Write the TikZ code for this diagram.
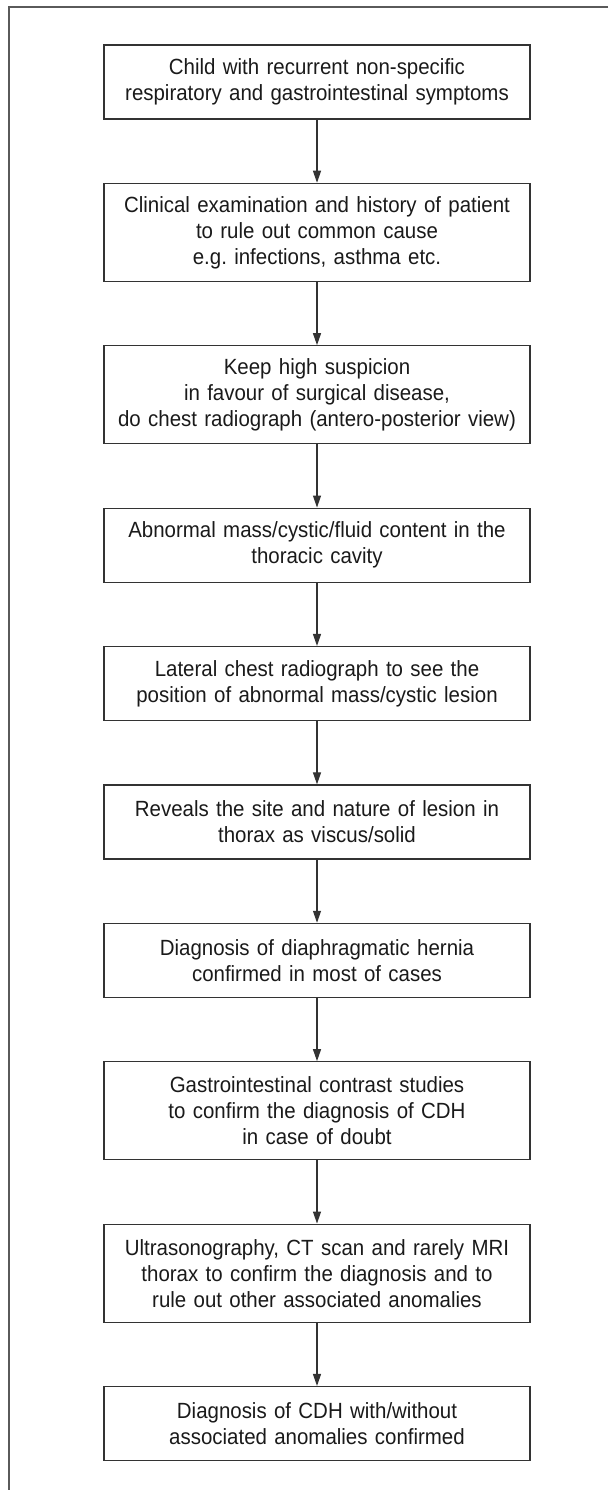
\documentclass[tikz,border=0pt]{standalone}
\usepackage{fontspec}
\setmainfont{Liberation Sans}[FakeStretch=0.93]
\usetikzlibrary{arrows.meta}
\definecolor{boxline}{HTML}{333333}
\definecolor{frameline}{HTML}{5A5A5A}
\definecolor{txt}{HTML}{1A1A1A}
\begin{document}
\begin{tikzpicture}[x=1pt,y=-1pt,
  flowbox/.style={draw=boxline, line width=1.3pt, text=txt, minimum width=426pt,
    text width=416pt, align=center, inner sep=0pt,
    font=\fontsize{22}{26}\selectfont\frenchspacing},
  twoline/.style={flowbox, minimum height=74pt},
  threeline/.style={flowbox, minimum height=98pt},
  flowarrow/.style={draw=boxline, line width=1.2pt, -{Triangle[length=12pt,width=8pt]}},
  frame/.style={draw=frameline, line width=1.6pt}]
\useasboundingbox (0,0) rectangle (608,1490);
% outer frame (top and left sides only)
\coordinate (frTR) at (608,7);
\coordinate (frTL) at (9,7);
\coordinate (frBL) at (9,1490);
\draw[frame] (frTR) -- (frTL) -- (frBL);
% boxes
\node[twoline] (b1) at (317,82) {Child with recurrent non-specific\\respiratory and gastrointestinal symptoms};
\node[threeline] (b2) at (317,232.4) {Clinical examination and history of patient\\to rule out common cause\\e.g. infections, asthma etc.};
\node[threeline] (b3) at (317,394.8) {Keep high suspicion\\in favour of surgical disease,\\do chest radiograph (antero-posterior view)};
\node[twoline] (b4) at (317,545.2) {Abnormal mass/cystic/fluid content in the\\thoracic cavity};
\node[twoline] (b5) at (317,683.6) {Lateral chest radiograph to see the\\position of abnormal mass/cystic lesion};
\node[twoline] (b6) at (317,822) {Reveals the site and nature of lesion in\\thorax as viscus/solid};
\node[twoline] (b7) at (317,960.4) {Diagnosis of diaphragmatic hernia\\confirmed in most of cases};
\node[threeline] (b8) at (317,1110.8) {Gastrointestinal contrast studies\\to confirm the diagnosis of CDH\\in case of doubt};
\node[threeline] (b9) at (317,1273.2) {Ultrasonography, CT scan and rarely MRI\\thorax to confirm the diagnosis and to\\rule out other associated anomalies};
\node[twoline] (b10) at (317,1423.6) {Diagnosis of CDH with/without\\associated anomalies confirmed};
% arrows
\foreach \a/\b in {b1/b2,b2/b3,b3/b4,b4/b5,b5/b6,b6/b7,b7/b8,b8/b9,b9/b10}
  \draw[flowarrow] (\a.south) -- (\b.north);
\end{tikzpicture}
\end{document}
